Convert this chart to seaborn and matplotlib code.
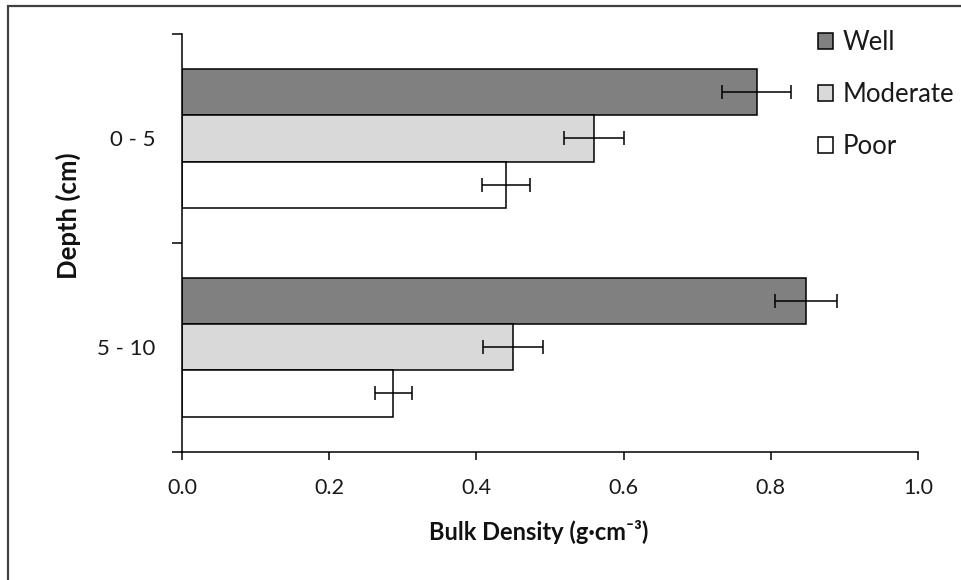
import matplotlib
matplotlib.use("Agg")
import matplotlib.pyplot as plt
import seaborn as sns
import pandas as pd
import numpy as np
from matplotlib.patches import Rectangle

depths = ["0 - 5", "5 - 10"]
drainage = ["Well", "Moderate", "Poor"]
well_vals = [0.781, 0.848]
moderate_vals = [0.560, 0.450]
poor_vals = [0.440, 0.287]
well_err = [0.047, 0.042]
moderate_err = [0.041, 0.041]
poor_err = [0.033, 0.025]
xticks = [0.0, 0.2, 0.4, 0.6, 0.8, 1.0]

sns.set_theme(style="white")
plt.rcParams["font.family"] = ["Lato", "DejaVu Sans"]

rows = []
for d_i, d in enumerate(depths):
    for name, vals, errs in [("Well", well_vals, well_err),
                             ("Moderate", moderate_vals, moderate_err),
                             ("Poor", poor_vals, poor_err)]:
        rows.append({"Depth": d, "Drainage": name, "Value": vals[d_i], "Err": errs[d_i]})
df = pd.DataFrame(rows)

palette = {"Well": "#808080", "Moderate": "#d9d9d9", "Poor": "#ffffff"}

fig = plt.figure(figsize=(9.61, 5.80), dpi=100)
ax = fig.add_axes([182/961, 1-451.7/580, (918-182)/961, (451.7-34)/580])

sns.barplot(data=df, y="Depth", x="Value", hue="Drainage", order=depths,
            hue_order=drainage, palette=palette, orient="h", width=0.663,
            errorbar=None, edgecolor="black", linewidth=1.1, ax=ax,
            saturation=1)

# error bars aligned with drawn bars
for patch in ax.patches:
    h = patch.get_height()
    if h <= 0 or h > 1:
        continue
    yc = patch.get_y() + h/2
    xv = patch.get_x() + patch.get_width()
    sub = df.iloc[(df["Value"] - xv).abs().argsort()[:1]]
    err = float(sub["Err"].iloc[0])
    ax.errorbar(xv, yc, xerr=err, fmt="none", ecolor="black", elinewidth=1.1,
                capsize=4.7, capthick=1.1, zorder=5)

ax.set_xlim(0, 1.0)
ax.set_ylim(1.5, -0.5)
ax.set_xticks(xticks)
ax.set_xticklabels([f"{t:.1f}" for t in xticks])
ax.set_yticks([-0.5, 0.5, 1.5])
ax.set_yticklabels(["", "", ""])
ax.set_yticks([0, 1], minor=True)
ax.set_yticklabels(depths, minor=True)
ax.tick_params(axis="y", which="major", direction="out", length=7.5, width=1.1,
               color="black", left=True)
ax.tick_params(axis="y", which="minor", length=0, pad=19, labelsize=16,
               labelcolor="#1a1a1a")
ax.tick_params(axis="x", direction="out", length=6, width=1.1, color="black",
               bottom=True, pad=13, labelsize=15.5, labelcolor="#1a1a1a")

for s in ["top", "right"]:
    ax.spines[s].set_visible(False)
for s in ["left", "bottom"]:
    ax.spines[s].set_color("black")
    ax.spines[s].set_linewidth(1.1)

ax.set_xlabel("Bulk Density (g·cm⁻³)", fontsize=17, fontweight="bold",
              color="#111111")
ax.set_ylabel("Depth (cm)", fontsize=18.5, fontweight="bold", color="#111111")
ax.xaxis.set_label_coords(0.484, -0.164)
ax.yaxis.set_label_coords(-0.137, 0.564)

leg = ax.legend(loc="upper left", bbox_to_anchor=(818/961, 1-30/580),
                bbox_transform=fig.transFigure, frameon=False, fontsize=18.5,
                handlelength=0.6, handleheight=0.6, handletextpad=0.35,
                labelspacing=1.05, borderaxespad=0, borderpad=0)
for t in leg.get_texts():
    t.set_color("#1a1a1a")

fig.patches.append(Rectangle((8/961, -0.1), 1.2, 1 - 6/580 + 0.1,
                             transform=fig.transFigure, fill=False,
                             edgecolor="#404040", linewidth=1.6, zorder=0))

fig.savefig("out.png", dpi=100, facecolor="white")
